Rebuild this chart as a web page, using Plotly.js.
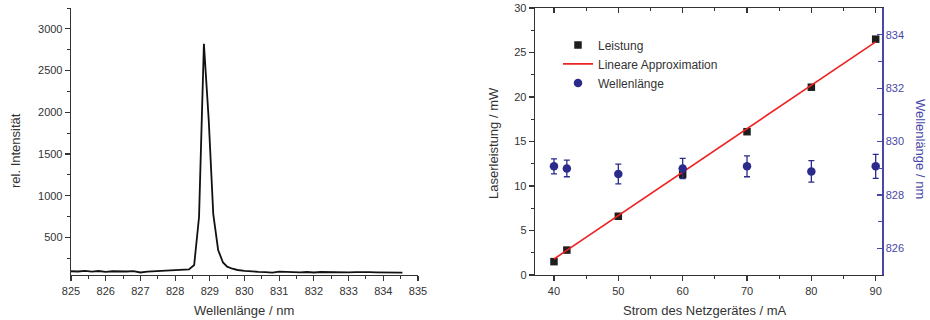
<!DOCTYPE html>
<html>
<head>
<meta charset="utf-8">
<script src="https://cdn.plot.ly/plotly-3.0.1.min.js"></script>
<style>html,body{margin:0;padding:0;background:#fff;}#plot{width:930px;height:320px;}</style>
</head>
<body>
<div id="plot"></div>
<script>
// Spectrum (left chart)
const specWavelength = [825.0, 825.2, 825.4, 825.6, 825.8, 826.0, 826.2, 826.4, 826.6, 826.8,
  827.0, 827.2, 827.4, 827.6, 827.8, 828.0, 828.2, 828.4, 828.55, 828.69, 828.83, 828.97,
  829.1, 829.24, 829.38, 829.5, 829.65, 829.8, 830.0, 830.2, 830.4, 830.6, 830.8, 831.0,
  831.2, 831.4, 831.6, 831.8, 832.0, 832.2, 832.4, 832.6, 832.8, 833.0, 833.2, 833.4,
  833.6, 833.8, 834.0, 834.2, 834.4, 834.55];
const specIntensity = [95, 92, 100, 90, 98, 88, 95, 90, 92, 97,
  80, 90, 95, 98, 105, 112, 108, 118, 170, 745, 2820, 1900,
  780, 350, 200, 150, 125, 110, 100, 92, 88, 85, 78, 90,
  85, 88, 82, 86, 80, 86, 84, 80, 85, 82, 84, 80,
  84, 82, 80, 82, 78, 78];

// Laser power vs. current (right chart)
const current = [40, 42, 50, 60, 70, 80, 90];
const power = [1.5, 2.8, 6.6, 11.3, 16.1, 21.1, 26.5];
const fitCurrent = [40, 90];
const fitPower = [1.8, 26.2];
const wavelength = [829.07, 828.99, 828.78, 828.99, 829.07, 828.88, 829.07];
const wavelengthErr = [0.28, 0.31, 0.37, 0.38, 0.39, 0.40, 0.45];

const leftTickVals = [825, 826, 827, 828, 829, 830, 831, 832, 833, 834, 835];

const dark = '#333333';
const blue = '#4848a8';
const navy = '#2b2b8c';
const tickFont = {family: 'Liberation Sans, Arial, sans-serif', size: 11, color: dark};
const titleFont = {family: 'Liberation Sans, Arial, sans-serif', size: 13, color: dark};

const traces = [
  {x: specWavelength, y: specIntensity, xaxis: 'x', yaxis: 'y', type: 'scatter', mode: 'lines',
   line: {color: '#111111', width: 1.8}, showlegend: false},
  {x: current, y: power, xaxis: 'x2', yaxis: 'y2', type: 'scatter', mode: 'markers', name: 'Leistung',
   marker: {symbol: 'square', size: 7.5, color: '#1e1e1e'}},
  {x: fitCurrent, y: fitPower, xaxis: 'x2', yaxis: 'y2', type: 'scatter', mode: 'lines', name: 'Lineare Approximation',
   line: {color: '#ee2222', width: 1.6}},
  {x: current, y: wavelength, xaxis: 'x2', yaxis: 'y3', type: 'scatter', mode: 'markers', name: 'Wellenlänge',
   marker: {symbol: 'circle', size: 8.5, color: navy},
   error_y: {type: 'data', array: wavelengthErr, visible: true, color: navy, thickness: 1.3, width: 3}},
  {x: [null], y: [null], xaxis: 'x3', yaxis: 'y2', type: 'scatter', mode: 'markers', showlegend: false, hoverinfo: 'skip'}
];

const yTop = 1 - 8/320, yBot = 1 - 275/320;

const layout = {
  width: 930, height: 320,
  margin: {l: 0, r: 0, t: 0, b: 0},
  paper_bgcolor: '#ffffff', plot_bgcolor: 'rgba(0,0,0,0)',
  font: tickFont,
  showlegend: true,
  legend: {x: 0.6, y: 0.905, xanchor: 'left', yanchor: 'top', bgcolor: 'rgba(0,0,0,0)',
    font: {family: 'Liberation Sans, Arial, sans-serif', size: 12, color: dark}, tracegroupgap: 0},
  xaxis: {domain: [71/930, 418/930], anchor: 'y', range: [825, 835], tickvals: leftTickVals,
    ticks: 'outside', ticklen: 5, tickwidth: 1.2, tickcolor: dark,
    minor: {dtick: 0.5, ticks: 'outside', ticklen: 3, tickcolor: dark, tickwidth: 1},
    showline: true, linecolor: dark, linewidth: 1.3, showgrid: false, zeroline: false, tickfont: tickFont},
  yaxis: {domain: [yBot, yTop], anchor: 'x', range: [50, 3250], tick0: 0, dtick: 500,
    ticks: 'outside', ticklen: 5, tickwidth: 1.2, tickcolor: dark,
    minor: {dtick: 250, ticks: 'outside', ticklen: 3, tickcolor: dark, tickwidth: 1},
    showline: true, linecolor: dark, linewidth: 1.3, showgrid: false, zeroline: false, tickfont: tickFont},
  xaxis2: {domain: [535/930, 882/930], anchor: 'y2', range: [37.05, 90.98], tick0: 0, dtick: 10,
    ticks: 'outside', ticklen: 5, tickwidth: 1.2, tickcolor: dark,
    minor: {dtick: 5, ticks: 'outside', ticklen: 3, tickcolor: dark, tickwidth: 1},
    showline: true, linecolor: dark, linewidth: 1.3, mirror: true, showgrid: false, zeroline: false, tickfont: tickFont},
  xaxis3: {overlaying: 'x2', anchor: 'y2', side: 'top', range: [37.05, 90.98], tick0: 0, dtick: 10,
    ticks: 'inside', ticklen: 5, tickwidth: 1.2, tickcolor: dark, showticklabels: false,
    minor: {dtick: 5, ticks: 'inside', ticklen: 3, tickcolor: dark, tickwidth: 1},
    showline: false, showgrid: false, zeroline: false},
  yaxis2: {domain: [yBot, yTop], anchor: 'x2', range: [0, 30], dtick: 5,
    ticks: 'outside', ticklen: 5, tickwidth: 1.2, tickcolor: dark,
    minor: {dtick: 2.5, ticks: 'outside', ticklen: 3, tickcolor: dark, tickwidth: 1},
    showline: true, linecolor: dark, linewidth: 1.3, showgrid: false, zeroline: false, tickfont: tickFont},
  yaxis3: {overlaying: 'y2', anchor: 'x2', side: 'right', range: [825, 835], tick0: 0, dtick: 2,
    ticks: 'inside', ticklen: 5, tickwidth: 1.2, tickcolor: blue,
    minor: {dtick: 1, ticks: 'inside', ticklen: 4, tickcolor: blue, tickwidth: 1},
    showline: true, linecolor: blue, linewidth: 1.5, showgrid: false, zeroline: false,
    tickfont: {family: 'Liberation Sans, Arial, sans-serif', size: 11, color: blue}},
  annotations: [
    {text: 'Wellenlänge / nm', xref: 'paper', yref: 'paper', x: 244/930, y: 1 - 310/320, showarrow: false,
     xanchor: 'center', yanchor: 'middle', font: titleFont},
    {text: 'rel. Intensität', xref: 'paper', yref: 'paper', x: 15/930, y: 1 - 151/320, showarrow: false,
     textangle: -90, xanchor: 'center', yanchor: 'middle', font: titleFont},
    {text: 'Strom des Netzgerätes / mA', xref: 'paper', yref: 'paper', x: 705/930, y: 1 - 310/320, showarrow: false,
     xanchor: 'center', yanchor: 'middle', font: titleFont},
    {text: 'Laserleistung / mW', xref: 'paper', yref: 'paper', x: 493/930, y: 1 - 143/320, showarrow: false,
     textangle: -90, xanchor: 'center', yanchor: 'middle', font: titleFont},
    {text: 'Wellenlänge / nm', xref: 'paper', yref: 'paper', x: 921/930, y: 1 - 149/320, showarrow: false,
     textangle: 90, xanchor: 'center', yanchor: 'middle',
     font: {family: 'Liberation Sans, Arial, sans-serif', size: 13, color: blue}}
  ]
};

Plotly.newPlot('plot', traces, layout, {staticPlot: true, displayModeBar: false});
</script>
</body>
</html>
